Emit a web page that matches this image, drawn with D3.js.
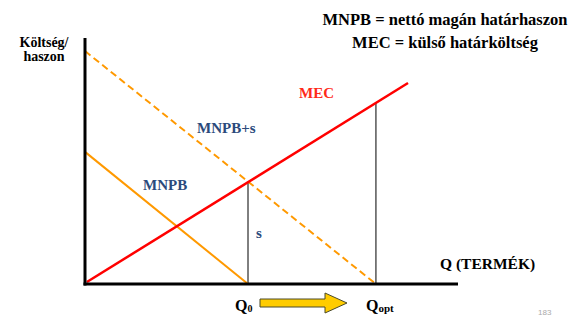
<!DOCTYPE html>
<html>
<head>
  <meta charset="utf-8">
  <title>MNPB MEC</title>
  <script src="https://cdn.jsdelivr.net/npm/d3@7"></script>
  <style>
    body { margin: 0; background: #fff; }
    text { font-family: "Times New Roman", "Liberation Serif", "DejaVu Serif", serif; font-weight: bold; }
    text.pg { font-family: "Liberation Sans", Arial, sans-serif; font-weight: normal; }
  </style>
</head>
<body>
<svg id="mainsvg" width="582" height="316"></svg>
<script>
  // curve endpoints in chart units (Q 0..100, cost 0..100)
  const mnpb = [[0, 53.7], [43.7, 0]];
  const mnpbS = [[0, 94.7], [78, 0]];
  const mec = [[0.5, 0.8], [86.6, 81.7]];
  const q0 = 43.7, qopt = 78;
  const legendLines = ['MNPB = nettó magán határhaszon', 'MEC = külső határköltség'];

  const svg = d3.select('#mainsvg');
  const x = d3.scaleLinear().domain([0, 100]).range([85, 458]);
  const y = d3.scaleLinear().domain([0, 100]).range([284, 38]);
  const line = d3.line().x(d => x(d[0])).y(d => y(d[1]));

  const mecAt = q => mec[0][1] + (q - mec[0][0]) * (mec[1][1] - mec[0][1]) / (mec[1][0] - mec[0][0]);

  // verticals at Q0 and Qopt
  [q0, qopt].forEach(q => {
    svg.append('line')
      .attr('x1', x(q)).attr('x2', x(q))
      .attr('y1', y(0)).attr('y2', y(mecAt(q)))
      .attr('stroke', '#000').attr('stroke-width', 1);
  });

  svg.append('path').attr('d', line(mnpb))
    .attr('fill', 'none').attr('stroke', '#ff9900').attr('stroke-width', 2);
  svg.append('path').attr('d', line(mnpbS))
    .attr('fill', 'none').attr('stroke', '#ff9900').attr('stroke-width', 2)
    .attr('stroke-dasharray', '7,4');
  svg.append('path').attr('d', line(mec))
    .attr('fill', 'none').attr('stroke', '#ff0000').attr('stroke-width', 2.5);

  // axes
  svg.append('line').attr('x1', x(0)).attr('x2', x(0)).attr('y1', y(100)).attr('y2', y(0) + 1.5)
    .attr('stroke', '#000').attr('stroke-width', 3);
  svg.append('line').attr('x1', x(0) - 1.5).attr('x2', x(100)).attr('y1', y(0)).attr('y2', y(0))
    .attr('stroke', '#000').attr('stroke-width', 3);

  // labels
  svg.append('text').attr('x', 44).attr('y', 47).attr('text-anchor', 'middle')
    .attr('font-size', 14).text('Költség/');
  svg.append('text').attr('x', 44).attr('y', 61).attr('text-anchor', 'middle')
    .attr('font-size', 14).text('haszon');

  legendLines.forEach((t, i) => {
    svg.append('text').attr('x', 445).attr('y', 25 + i * 23).attr('text-anchor', 'middle')
      .attr('font-size', 16.5).text(t);
  });

  svg.append('text').attr('x', 299).attr('y', 98).attr('font-size', 15)
    .attr('fill', '#ff2a1a').text('MEC');
  svg.append('text').attr('x', 197).attr('y', 133).attr('font-size', 15)
    .attr('fill', '#2b4a7c').text('MNPB+s');
  svg.append('text').attr('x', 143).attr('y', 190).attr('font-size', 15)
    .attr('fill', '#2b4a7c').text('MNPB');
  svg.append('text').attr('x', 256).attr('y', 238).attr('font-size', 15)
    .attr('fill', '#2b4a7c').text('s');

  svg.append('text').attr('x', 440).attr('y', 269).attr('font-size', 15.5).text('Q (TERMÉK)');

  const q0t = svg.append('text').attr('x', x(q0) - 13).attr('y', 311).attr('font-size', 16);
  q0t.append('tspan').text('Q');
  q0t.append('tspan').attr('font-size', 10).attr('dy', 1).text('0');
  const qot = svg.append('text').attr('x', x(qopt) - 10).attr('y', 311).attr('font-size', 16);
  qot.append('tspan').text('Q');
  qot.append('tspan').attr('font-size', 11).attr('dy', 1).text('opt');

  // arrow from Q0 towards Qopt
  const ax0 = 260, ax1 = 347, hx = 325, cy = 303;
  svg.append('path')
    .attr('d', `M${ax0},${cy - 4}L${hx},${cy - 4}L${hx},${cy - 10}L${ax1},${cy}L${hx},${cy + 10}L${hx},${cy + 4}L${ax0},${cy + 4}Z`)
    .attr('fill', '#ffcc00').attr('stroke', '#4a4a2a').attr('stroke-width', 1);

  svg.append('text').attr('class', 'pg').attr('x', 538).attr('y', 315).attr('font-size', 8)
    .attr('fill', '#aaa').text('183');
</script>
</body>
</html>
